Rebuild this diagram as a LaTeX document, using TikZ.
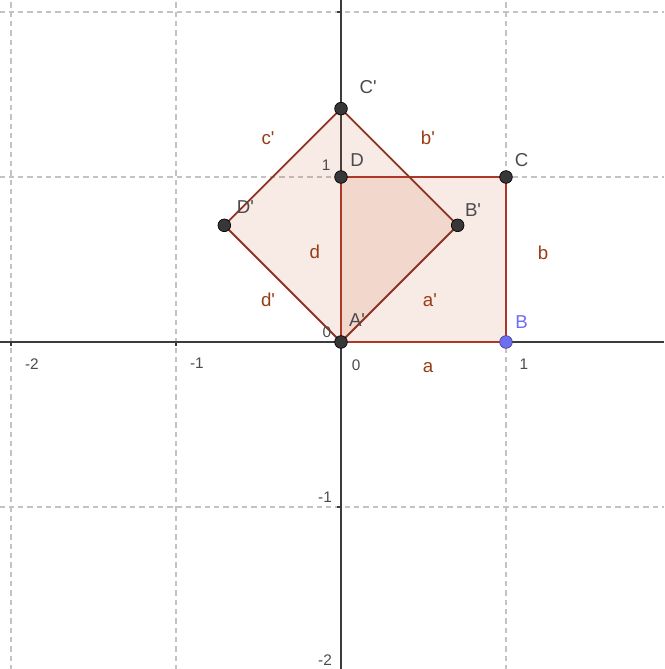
\documentclass[tikz,border=0pt]{standalone}
\usepackage{fontspec}
\setmainfont{Liberation Sans}
\definecolor{edgebrown}{RGB}{165,60,40}
\definecolor{edgered}{RGB}{175,55,40}
\definecolor{fillbrown}{RGB}{200,90,50}
\definecolor{lblbrown}{RGB}{153,60,20}
\definecolor{ptgrey}{RGB}{55,55,55}
\definecolor{axisgrey}{RGB}{60,60,60}
\definecolor{gridgrey}{RGB}{195,195,195}
\definecolor{ptblue}{RGB}{110,110,240}
\definecolor{txtgrey}{RGB}{75,75,75}
\newcommand{\pq}{\textquotesingle}
\tikzset{
  gridline/.style={draw=gridgrey, line width=0.8pt, dash pattern=on 4pt off 3pt},
  axisline/.style={draw=axisgrey, line width=1.2pt},
  sqfill/.style={fill=fillbrown, fill opacity=0.13},
  sqedge/.style={draw=edgered, line width=1.4pt, line join=round},
  rotedge/.style={draw=edgebrown!85!black, line width=1.4pt, line join=round},
  pt/.style={circle, fill=ptgrey, draw=black, line width=0.5pt, inner sep=0pt, minimum size=9.5pt},
  ptb/.style={circle, fill=ptblue, draw=ptblue!60!black, line width=0.5pt, inner sep=0pt, minimum size=9.5pt},
  ptlabel/.style={text=txtgrey, font=\fontsize{14}{16}\selectfont, inner sep=0pt},
  edgelabel/.style={text=lblbrown, font=\fontsize{14}{16}\selectfont, inner sep=0pt},
  ticklabel/.style={text=txtgrey, font=\fontsize{11.5}{13}\selectfont, inner sep=0pt}
}
\begin{document}
\begin{tikzpicture}[x=123.75pt, y=123.75pt]
\useasboundingbox (-2.0667,-1.9818) rectangle (1.9576,2.0727);
% grid
\foreach \gx in {-2,-1,1} \draw[gridline] (\gx,-1.99) -- (\gx,2.08);
\foreach \gy in {-1,1,2} \draw[gridline] (-2.07,\gy) -- (1.96,\gy);
% axes
\draw[axisline] (-2.07,0) -- (1.96,0);
\draw[axisline] (0,-1.99) -- (0,2.08);
\foreach \gx in {-2,-1,1} \draw[axisline, line width=0.8pt] (\gx,0) -- (\gx,-0.025);
\foreach \gy in {-1,1,2} \draw[axisline, line width=0.8pt] (0,\gy) -- (-0.025,\gy);
% coordinates
\coordinate (A) at (0,0);
\coordinate (B) at (1,0);
\coordinate (C) at (1,1);
\coordinate (D) at (0,1);
\coordinate (Bp) at (0.7071,0.7071);
\coordinate (Cp) at (0,1.4142);
\coordinate (Dp) at (-0.7071,0.7071);
% fills
\fill[sqfill] (A) -- (B) -- (C) -- (D) -- cycle;
\fill[sqfill] (A) -- (Bp) -- (Cp) -- (Dp) -- cycle;
% edges
\draw[sqedge] (A) -- (B) -- (C) -- (D) -- cycle;
\draw[rotedge] (A) -- (Bp) -- (Cp) -- (Dp) -- cycle;
% points
\node[pt] (nA) at (A) {};
\node[ptb] (nB) at (B) {};
\node[pt] (nC) at (C) {};
\node[pt] (nD) at (D) {};
\node[pt] (nBp) at (Bp) {};
\node[pt] (nCp) at (Cp) {};
\node[pt] (nDp) at (Dp) {};
% point labels
\node[ptlabel] (lCp) at (0.164,1.545) {C\pq};
\node[ptlabel] (lD) at (0.097,1.103) {D};
\node[ptlabel] (lC) at (1.095,1.103) {C};
\node[ptlabel] (lBp) at (0.80,0.80) {B\pq};
\node[ptlabel] (lDp) at (-0.58,0.818) {D\pq};
\node[ptlabel] (lAp) at (0.097,0.133) {A\pq};
\node[ptlabel, text=ptblue] (lB) at (1.095,0.121) {B};
% edge labels
\node[edgelabel] (lc) at (-0.442,1.236) {c\pq};
\node[edgelabel] (lbp) at (0.527,1.236) {b\pq};
\node[edgelabel] (ld) at (-0.158,0.545) {d};
\node[edgelabel] (lb) at (1.224,0.539) {b};
\node[edgelabel] (ldp) at (-0.442,0.255) {d\pq};
\node[edgelabel] (lap) at (0.539,0.255) {a\pq};
\node[edgelabel] (la) at (0.527,-0.152) {a};
% tick labels
\node[ticklabel] (tx1) at (-1.873,-0.133) {-2};
\node[ticklabel] (tx2) at (-0.873,-0.127) {-1};
\node[ticklabel] (tx3) at (0.091,-0.14) {0};
\node[ticklabel] (tx4) at (1.109,-0.133) {1};
\node[ticklabel] (ty0) at (-0.085,0.058) {0};
\node[ticklabel] (ty1) at (-0.09,1.073) {1};
\node[ticklabel] (ty2) at (-0.097,-0.939) {-1};
\node[ticklabel] (ty3) at (-0.097,-1.927) {-2};
\end{tikzpicture}
\end{document}
